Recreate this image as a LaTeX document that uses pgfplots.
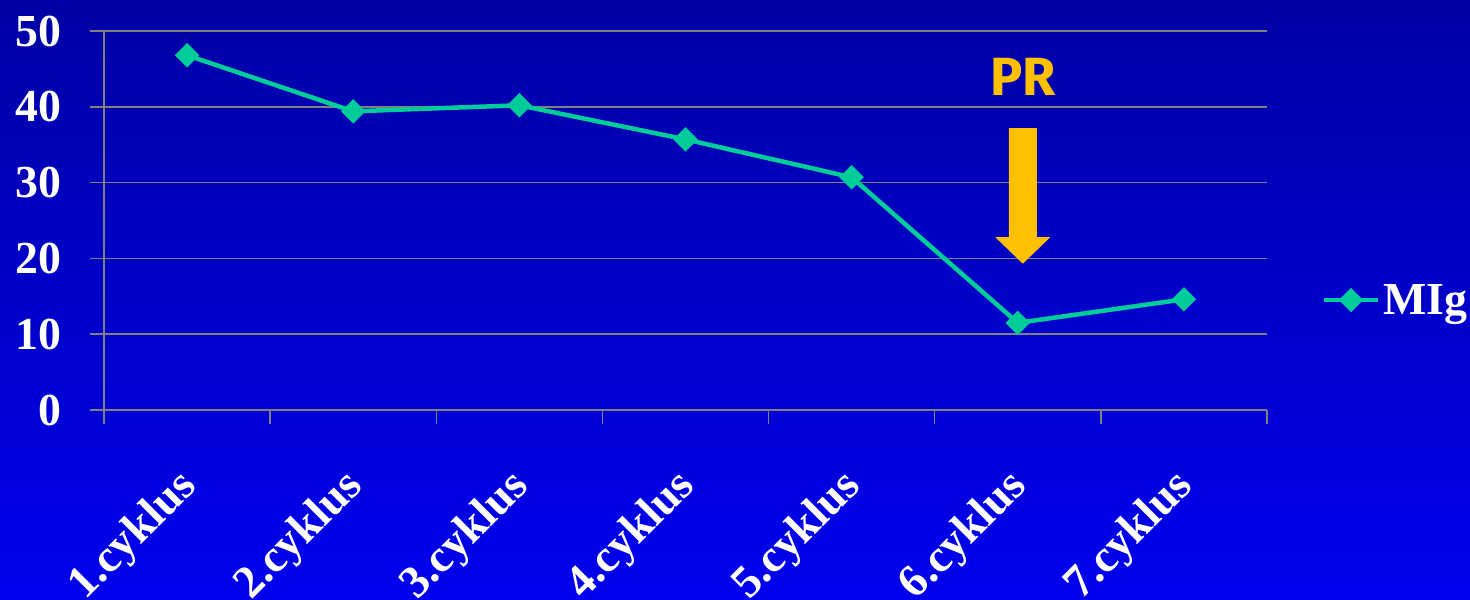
\documentclass[border=0pt]{standalone}
\usepackage{pgfplots}
\pgfplotsset{compat=1.18}
\usepackage{fontspec}
\setmainfont{Liberation Serif}
\newfontfamily\prfont{Fira Sans}
\definecolor{bgtop}{RGB}{0,0,165}
\definecolor{bgbot}{RGB}{0,0,238}
\definecolor{teal}{RGB}{0,204,153}
\definecolor{arr}{RGB}{255,192,0}
\definecolor{gridc}{RGB}{128,128,128}
\begin{document}
\begin{tikzpicture}
\shade[top color=bgtop, bottom color=bgbot] (-104bp,-190bp) rectangle (1366bp,410bp);
\begin{axis}[
  scale only axis,
  width=1163bp, height=379bp,
  xmin=-0.5, xmax=6.5, ymin=0, ymax=50,
  axis lines*=left,
  axis line style={gridc, line width=1.5bp},
  ymajorgrids,
  grid style={gridc, line width=1.5bp},
  tick style={gridc, line width=1.5bp},
  tick align=outside,
  major tick length=14bp,
  ytick={0,10,...,50},
  xtick={-0.5,0.5,...,6.5},
  xticklabels={},
  extra x ticks={0,1,2,3,4,5,6},
  extra x tick labels={1.cyklus,2.cyklus,3.cyklus,4.cyklus,5.cyklus,6.cyklus,7.cyklus},
  extra x tick style={major tick length=0pt, grid=none,
    xticklabel style={xshift=3bp, yshift=-70bp, rotate=45, anchor=east}},
  /pgf/number format/assume math mode=true,
  ticklabel style={text=white, font=\bfseries\fontsize{46}{46}\selectfont, inner sep=0pt},
  yticklabel style={anchor=east, xshift=-28bp},
  legend style={at={(1.047,0.29)}, anchor=west, draw=none, fill=none,
    text=white, font=\bfseries\fontsize{46}{46}\selectfont, inner sep=0pt,
    nodes={inner sep=3bp}},
  legend image code/.code={\draw[#1, mark repeat=2, mark phase=2] plot coordinates {(0bp,0bp) (27bp,0bp) (54bp,0bp)};},
]
\addplot[teal, line width=4.5bp, mark=square*, mark size=6.4bp, mark options={rotate=45, solid}]
  coordinates {(0,46.8) (1,39.4) (2,40.2) (3,35.7) (4,30.7) (5,11.5) (6,14.6)};
\addlegendentry{MIg}
\fill[arr] ([xshift=-9bp]axis cs:5,37.2) -- ([xshift=19bp]axis cs:5,37.2) -- ([xshift=19bp]axis cs:5,22.8) -- ([xshift=32.5bp]axis cs:5,22.8) -- ([xshift=5bp]axis cs:5,19.3) -- ([xshift=-22.5bp]axis cs:5,22.8) -- ([xshift=-9bp]axis cs:5,22.8) -- cycle;
\node[text=arr, font=\prfont\bfseries\fontsize{54}{54}\selectfont, inner sep=0pt] at ([xshift=5bp]axis cs:5,43.9) {PR};
\end{axis}
\pgfresetboundingbox
\useasboundingbox (-104bp,-190bp) rectangle (1366bp,410bp);
\end{tikzpicture}
\end{document}
